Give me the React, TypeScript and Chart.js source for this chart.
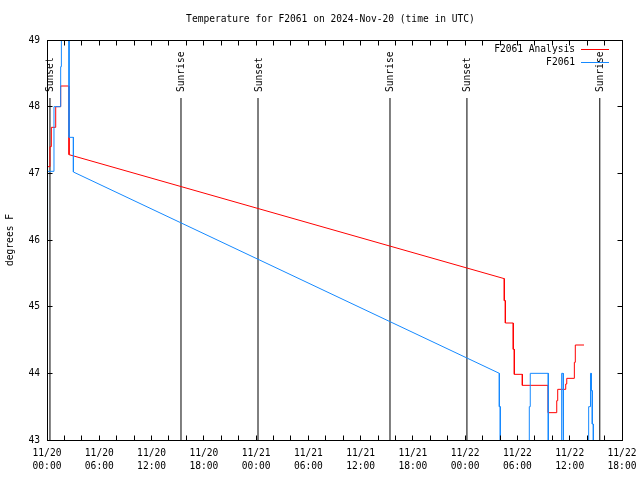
import React, { useEffect, useRef } from 'react';
import { Chart, registerables } from 'chart.js';

Chart.register(...registerables);

const TITLE = 'Temperature for F2061 on 2024-Nov-20 (time in UTC)';
const Y_LABEL = 'degrees F';
const SERIES_NAMES = ['F2061 Analysis', 'F2061'];
const SERIES_COLORS = ['#ff0000', '#1589ff'];
const FONT = 'DejaVu Sans Mono';

// hours since 2024-11-20 00:00 UTC
const X_MIN = 0;
const X_MAX = 66;
const Y_MIN = 43;
const Y_MAX = 49;
const START_MONTH = 11;
const START_DAY = 20;

// Analysis (stepped samples), early block and late block
const analysisEarlyHours = [0, 0.34, 0.5, 1.0, 1.57, 2.53];
const analysisEarlyTemps = [47.1, 47.4, 47.69, 48.0, 48.31, 47.28];
const analysisLateHours = [52.49, 52.49, 52.61, 53.52, 53.64, 54.56, 57.54, 58.51, 58.62, 59.54, 59.66, 60.53, 60.64, 61.64];
const analysisLateTemps = [45.42, 45.09, 44.755, 44.36, 43.985, 43.82, 43.41, 43.59, 43.76, 43.84, 43.925, 44.165, 44.425, 44.425];

// Observations (stepped samples), early block and late block
const obsEarlyHours = [0, 0.03, 0.1, 0.8, 1.57, 1.65, 1.75, 2.53, 3.03];
const obsEarlyTemps = [46.0, 46.5, 47.03, 48.0, 48.6, 49.3, 50.0, 47.54, 47.02];
const obsLateHours = [51.92, 51.92, 52.03, 55.36, 55.47, 57.54, 59.0, 59.11, 59.23, 59.3, 62.1, 62.21, 62.33, 62.41, 62.48, 62.59, 62.71, 63.5];
const obsLateTemps = [44.0, 43.5, 42.5, 43.5, 44.0, 42.5, 43.5, 44.0, 43.5, 42.5, 43.17, 43.5, 43.83, 44.0, 43.74, 43.24, 42.5, 42.5];

// Sun events
const eventNames = ['Sunset', 'Sunrise', 'Sunset', 'Sunrise', 'Sunset', 'Sunrise'];
const eventHours = [0.34, 15.38, 24.22, 39.37, 48.2, 63.45];
const EVENT_LINE_TOP = 48.13;

function stepVertices(hours: number[], temps: number[]) {
  const pts: { x: number; y: number }[] = [];
  for (let i = 0; i < hours.length; i++) {
    if (i > 0) pts.push({ x: hours[i], y: temps[i - 1] });
    pts.push({ x: hours[i], y: temps[i] });
  }
  return pts;
}

function pad2(n: number) {
  return n < 10 ? '0' + n : String(n);
}

const decorPlugin = {
  id: 'gnuplotDecor',
  afterDraw(chart: any) {
    const ctx = chart.ctx as CanvasRenderingContext2D;
    const { left, right, top, bottom } = chart.chartArea;
    const xs = chart.scales.x;
    const ys = chart.scales.y;
    const L = Math.floor(left) + 0.5;
    const R = Math.floor(right) + 0.5;
    const T = Math.floor(top) + 0.5;
    const B = Math.floor(bottom) + 0.5;
    ctx.save();
    ctx.strokeStyle = '#000';
    ctx.lineWidth = 1;
    // frame
    ctx.strokeRect(L, T, R - L, B - T);
    // ticks
    ctx.beginPath();
    xs.ticks.forEach((t: any) => {
      const px = Math.floor(xs.getPixelForValue(t.value)) + 0.5;
      ctx.moveTo(px, B);
      ctx.lineTo(px, B - 5);
      ctx.moveTo(px, T);
      ctx.lineTo(px, T + 5);
    });
    ys.ticks.forEach((t: any) => {
      const py = Math.floor(ys.getPixelForValue(t.value)) + 0.5;
      ctx.moveTo(L, py);
      ctx.lineTo(L + 5, py);
      ctx.moveTo(R, py);
      ctx.lineTo(R - 5, py);
    });
    ctx.stroke();

    ctx.fillStyle = '#000';
    ctx.font = `9.6px "${FONT}"`;
    // title
    ctx.textAlign = 'center';
    ctx.textBaseline = 'middle';
    ctx.fillText(TITLE, (left + right) / 2 - 4, 19);
    // y label
    ctx.save();
    ctx.translate(10, (top + bottom) / 2);
    ctx.rotate(-Math.PI / 2);
    ctx.fillText(Y_LABEL, 0, 0);
    ctx.restore();
    // event labels
    const lineTopPx = ys.getPixelForValue(EVENT_LINE_TOP);
    eventNames.forEach((name, i) => {
      const px = xs.getPixelForValue(eventHours[i]);
      ctx.save();
      ctx.translate(px + 1, lineTopPx - 6);
      ctx.rotate(-Math.PI / 2);
      ctx.textAlign = 'left';
      ctx.textBaseline = 'middle';
      ctx.fillText(name, 0, 0);
      ctx.restore();
    });
    // legend
    SERIES_NAMES.forEach((name, i) => {
      const y = top + 9 + i * 13;
      ctx.textAlign = 'right';
      ctx.textBaseline = 'middle';
      ctx.fillStyle = '#000';
      ctx.fillText(name, right - 47, y);
      ctx.strokeStyle = SERIES_COLORS[i];
      ctx.beginPath();
      ctx.moveTo(right - 41, Math.floor(y) + 0.5);
      ctx.lineTo(right - 13, Math.floor(y) + 0.5);
      ctx.stroke();
    });
    ctx.restore();
  },
};

export default function App() {
  const canvasRef = useRef<HTMLCanvasElement | null>(null);

  useEffect(() => {
    if (!canvasRef.current) return;
    const analysisData = [
      ...stepVertices(analysisEarlyHours, analysisEarlyTemps),
      ...stepVertices(analysisLateHours, analysisLateTemps),
    ];
    const obsData = [
      ...stepVertices(obsEarlyHours, obsEarlyTemps),
      ...stepVertices(obsLateHours, obsLateTemps),
    ];
    const eventSets = eventHours.map((h, i) => ({
      label: eventNames[i],
      data: [
        { x: h, y: Y_MIN },
        { x: h, y: EVENT_LINE_TOP },
      ],
      borderColor: '#000',
      borderWidth: 1,
      pointRadius: 0,
      order: 2,
    }));
    const chart = new Chart(canvasRef.current, {
      type: 'line',
      data: {
        datasets: [
          {
            label: SERIES_NAMES[1],
            data: obsData,
            borderColor: SERIES_COLORS[1],
            borderWidth: 1,
            pointRadius: 0,
            tension: 0,
            order: 0,
          },
          {
            label: SERIES_NAMES[0],
            data: analysisData,
            borderColor: SERIES_COLORS[0],
            borderWidth: 1,
            pointRadius: 0,
            tension: 0,
            order: 1,
          },
          ...eventSets,
        ],
      },
      options: {
        animation: false,
        responsive: false,
        maintainAspectRatio: false,
        parsing: false as any,
        layout: { padding: { top: 40, right: 18, left: 0, bottom: 0 } },
        plugins: {
          legend: { display: false },
          title: { display: false },
          tooltip: { enabled: false },
        },
        scales: {
          x: {
            type: 'linear',
            min: X_MIN,
            max: X_MAX,
            afterFit: (s: any) => {
              s.height = 40;
              s.paddingLeft = 0;
              s.paddingRight = 0;
            },
            grid: { display: false, drawTicks: false },
            border: { display: false },
            ticks: {
              stepSize: 2,
              autoSkip: false,
              maxRotation: 0,
              minRotation: 0,
              padding: 7,
              color: '#000',
              font: { family: FONT, size: 9.6, lineHeight: 1.35 },
              callback: (v: any) => {
                const h = Number(v);
                if (h % 6 !== 0) return '';
                const day = START_DAY + Math.floor(h / 24);
                const hh = h % 24;
                return [`${START_MONTH}/${day}`, `${pad2(hh)}:00`];
              },
            },
          },
          y: {
            type: 'linear',
            min: Y_MIN,
            max: Y_MAX,
            afterFit: (s: any) => {
              s.width = 47;
              s.paddingTop = 0;
              s.paddingBottom = 0;
            },
            grid: { display: false, drawTicks: false },
            border: { display: false },
            ticks: {
              stepSize: 1,
              padding: 7,
              color: '#000',
              font: { family: FONT, size: 9.6 },
            },
          },
        },
      },
      plugins: [decorPlugin],
    });
    return () => chart.destroy();
  }, []);

  return (
    <div style={{ position: 'fixed', left: 0, top: 0, width: 640, height: 480, background: '#fff' }}>
      <canvas ref={canvasRef} width={640} height={480} style={{ width: 640, height: 480 }} />
    </div>
  );
}
